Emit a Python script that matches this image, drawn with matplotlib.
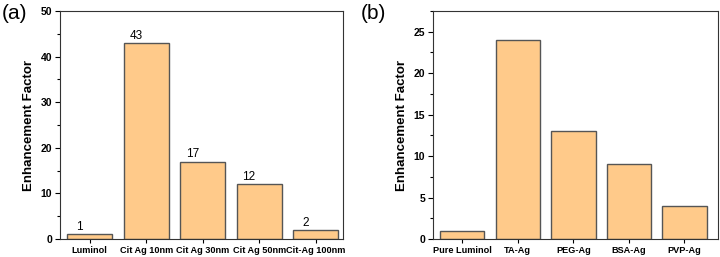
import matplotlib.pyplot as plt
import numpy as np
from matplotlib.ticker import MultipleLocator

labels_a = ["Luminol", "Cit Ag 10nm", "Cit Ag 30nm", "Cit Ag 50nm", "Cit-Ag 100nm"]
values_a = [1, 43, 17, 12, 2]
labels_b = ["Pure Luminol", "TA-Ag", "PEG-Ag", "BSA-Ag", "PVP-Ag"]
values_b = [1, 24, 13, 9, 4]

bar_color = '#FFCA8A'
edge_color = '#555555'

plt.rcParams['font.family'] = ['Arial', 'Liberation Sans', 'DejaVu Sans']

fig = plt.figure(figsize=(7.2, 2.57), dpi=100)
ax1 = fig.add_axes([0.083, 0.070, 0.393, 0.887])
ax2 = fig.add_axes([0.601, 0.070, 0.396, 0.887])


def style(ax, labels, ymax, major, minor):
    x = np.arange(len(labels))
    ax.set_xticks(x)
    ax.set_xticklabels(labels, fontsize=6.6, fontweight='bold')
    ax.set_ylim(0, ymax)
    ax.yaxis.set_major_locator(MultipleLocator(major))
    ax.yaxis.set_minor_locator(MultipleLocator(minor))
    ax.tick_params(axis='y', labelsize=7.5, width=0.8, length=3.5, pad=2)
    ax.tick_params(axis='y', which='minor', length=2, width=0.8)
    ax.tick_params(axis='x', width=0.8, length=3, pad=2)
    for lbl in ax.get_yticklabels():
        lbl.set_fontweight('bold')
    for s in ax.spines.values():
        s.set_linewidth(0.8)
        s.set_color('#333333')
    ax.set_ylabel("Enhancement Factor", fontsize=9.5, fontweight='bold', labelpad=4)


x_a = np.arange(len(values_a))
ax1.bar(x_a, values_a, width=0.8, color=bar_color, edgecolor=edge_color, linewidth=1)
style(ax1, labels_a, 50, 10, 5)
ax1.set_xlim(-0.53, 4.48)
for xi, v in zip(x_a, values_a):
    ax1.text(xi - 0.18, v + 0.3, str(v), ha='center', va='bottom', fontsize=8.5)

x_b = np.arange(len(values_b))
ax2.bar(x_b, values_b, width=0.8, color=bar_color, edgecolor=edge_color, linewidth=1)
style(ax2, labels_b, 27.5, 5, 2.5)
ax2.set_xlim(-0.53, 4.6)

fig.text(0.003, 0.985, "(a)", fontsize=15, ha='left', va='top')
fig.text(0.501, 0.985, "(b)", fontsize=15, ha='left', va='top')

fig.savefig("out.png", dpi=100)
